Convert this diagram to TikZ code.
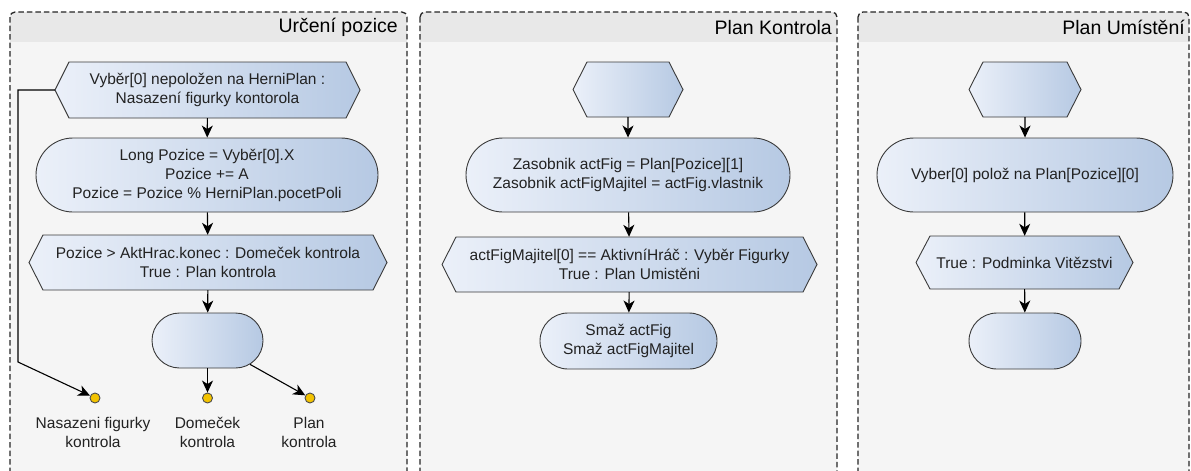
\documentclass[tikz,border=0pt]{standalone}
\usepackage{fontspec}
\setmainfont{Liberation Sans}
\usetikzlibrary{shapes.misc,arrows.meta}
\definecolor{nodeL}{HTML}{EBF0F9}
\definecolor{nodeR}{HTML}{B6C9E3}
\definecolor{edgeC}{HTML}{3A3A3A}
\definecolor{headC}{HTML}{E8E8E8}
\definecolor{bodyC}{HTML}{F5F5F5}
\definecolor{dotC}{HTML}{F3C300}
\definecolor{txtC}{HTML}{222222}
\newcommand\bodyfont{\fontsize{15.5}{19}\selectfont}
\newcommand\titlefont{\fontsize{19.5}{23}\selectfont}
\tikzset{
  panelborder/.style={draw=black!85, dash pattern=on 5.5pt off 3pt, line width=1.3pt},
  titletext/.style={font=\titlefont, text=black, inner sep=0pt, anchor=east},
  hexshape/.style={draw=edgeC, line width=0.9pt, left color=nodeL, right color=nodeR},
  nodetext/.style={font=\bodyfont, text=txtC, align=center, inner sep=0pt},
  stadium/.style={rounded rectangle, draw=edgeC, line width=0.9pt, left color=nodeL, right color=nodeR,
    font=\bodyfont, text=txtC, align=center, inner sep=0pt},
  flow/.style={draw=black, line width=1.1pt, -{Stealth[length=12pt,width=11pt,inset=3.5pt]}},
  enddot/.style={circle, draw=black!70, line width=0.9pt, fill=dotC, minimum size=10pt, inner sep=0pt},
  dotlabel/.style={font=\bodyfont, text=txtC, align=center, inner sep=0pt}
}
% panel: #1 left x, #2 right x, #3 title right end, #4 node name, #5 title
\newcommand\mypanel[5]{%
  \fill[bodyC, rounded corners=5] (#1,12) rectangle (#2,495);
  \begin{scope}
    \clip[rounded corners=5] (#1,12) rectangle (#2,495);
    \fill[headC] (#1,12) rectangle (#2,42);
  \end{scope}
  \draw[panelborder, rounded corners=5] (#1,12) rectangle (#2,495);
  \node[titletext] (#4) at (#3,27.5) {#5};}
% hexagon: #1 name, #2 cx, #3 cy, #4 width, #5 height, #6 text
\newcommand\hexnode[6]{%
  \path[hexshape] (#2-#4/2,#3) -- (#2-#4/2+14,#3-#5/2) -- (#2+#4/2-14,#3-#5/2)
    -- (#2+#4/2,#3) -- (#2+#4/2-14,#3+#5/2) -- (#2-#4/2+14,#3+#5/2) -- cycle;
  \node[nodetext, minimum width=#4pt, minimum height=#5pt] (#1) at (#2,#3) {#6};}
\begin{document}
\begin{tikzpicture}[x=1pt, y=-1pt]
\useasboundingbox (0,0) rectangle (1191,471);
\clip (0,0) rectangle (1191,471);
\fill[white] (0,0) rectangle (1191,471);

\mypanel{10}{407}{398}{t1}{Určení pozice}
\mypanel{420}{837}{832}{t2}{Plan Kontrola}
\mypanel{858}{1189}{1185}{t3}{Plan Umístění}

% ---- panel 1
\hexnode{a1}{207.5}{90}{305}{56}{Vyběr[0] nepoložen na HerniPlan :\\Nasazení figurky kontorola}
\node[stadium, minimum width=342pt, minimum height=74pt] (a2) at (207,175)
  {Long Pozice = Vyběr[0].X\\Pozice += A\\Pozice = Pozice \% HerniPlan.pocetPoli};
\hexnode{a3}{208}{262.5}{358}{55}{Pozice > AktHrac.konec : Domeček kontrola\\True : Plan kontrola}
\node[stadium, minimum width=111pt, minimum height=55pt] (a4) at (207.5,340.5) {};
\node[enddot] (d1) at (95,398) {};
\node[enddot] (d2) at (207.5,398) {};
\node[enddot] (d3) at (310,398) {};
\node[dotlabel] (l1) at (93,432.5) {Nasazeni figurky\\kontrola};
\node[dotlabel] (l2) at (207.5,432.5) {Domeček\\kontrola};
\node[dotlabel] (l3) at (309,432.5) {Plan\\kontrola};
\coordinate (k1) at (18,90);
\coordinate (k2) at (18,362);
\draw[flow] (a1) -- (a2);
\draw[flow] (a2) -- (a3);
\draw[flow] (a3) -- (a4);
\draw[flow] (a4) -- (d2);
\draw[flow] (a4) -- (d3);
\draw[flow] (a1.west) -- (k1) -- (k2) -- (d1);

% ---- panel 2
\hexnode{b1}{628}{89.5}{110}{55}{}
\node[stadium, minimum width=324pt, minimum height=74pt] (b2) at (628,175)
  {Zasobnik actFig = Plan[Pozice][1]\\Zasobnik actFigMajitel = actFig.vlastnik};
\hexnode{b3}{629.5}{264.5}{375}{55}{actFigMajitel[0] == AktivníHráč : Vyběr Figurky\\True : Plan Umistěni}
\node[stadium, minimum width=177pt, minimum height=56pt] (b4) at (628.5,341)
  {Smaž actFig\\Smaž actFigMajitel};
\draw[flow] (b1) -- (b2);
\draw[flow] (b2) -- (b3);
\draw[flow] (b3) -- (b4);

% ---- panel 3
\hexnode{c1}{1025}{89.5}{112}{55}{}
\node[stadium, minimum width=296pt, minimum height=74pt] (c2) at (1025,175)
  {Vyber[0] polož na Plan[Pozice][0]};
\hexnode{c3}{1024.5}{262.5}{217}{53}{True : Podminka Vitězstvi}
\node[stadium, minimum width=112pt, minimum height=56pt] (c4) at (1025,341) {};
\draw[flow] (c1) -- (c2);
\draw[flow] (c2) -- (c3);
\draw[flow] (c3) -- (c4);
\end{tikzpicture}
\end{document}
